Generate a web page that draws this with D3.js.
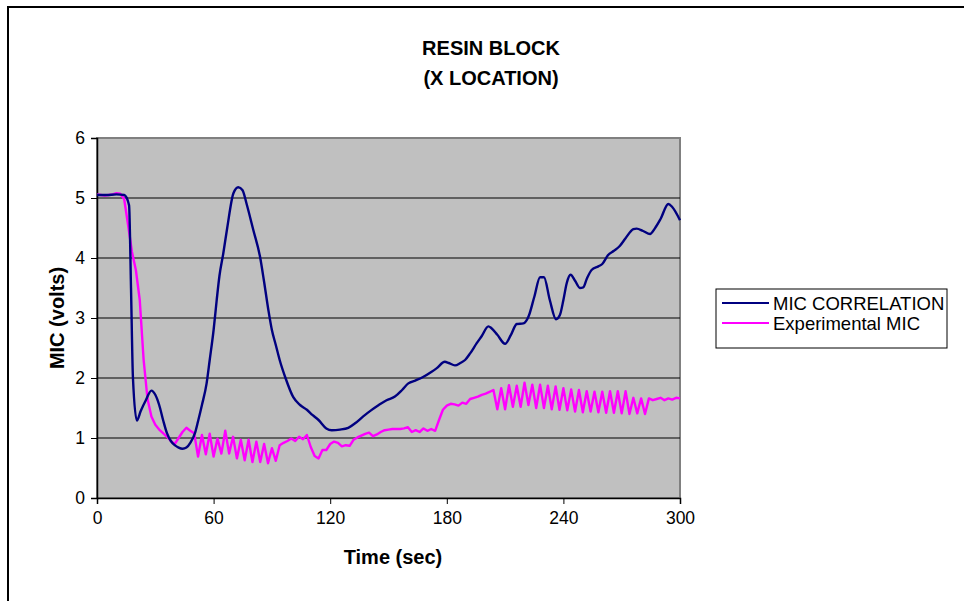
<!DOCTYPE html>
<head>
<meta charset="utf-8">
<style>
body { margin: 0; background: #fff; }
text { font-family: Arial, "Liberation Sans", sans-serif; }
</style>
</head>
<body>
<script src="https://d3js.org/d3.v7.min.js"></script>
<script>
// MIC CORRELATION (time in sec, volts)
var corrTime = [0,5,10,14,16.5,17.5,18.5,20.5,22.5,25,28,30,32,34,36,38,40,42,44,46,48,50.4,52,54,56.4,58,60,61.6,63,65,67,70.2,72.7,74.9,77,80.4,83.9,86,88.2,90,92,94,97,101,104.5,108,111,114,118,120.8,125,129.3,133,137,141,145,149,153.3,157,160.2,164,168,172,174.7,179,181,184.2,187,189.4,192,195.4,198,201.4,203,206,210,213,216,219.4,222,225,228,230,233,236.2,238.2,240,241.7,243.7,246,248.5,250.2,252,254.5,258,260,263,266,269,272,276,277.7,281,284.6,287,290,294,296,300];
var corrVolts = [5.05,5.05,5.06,5.05,4.88,3.5,2.0,1.29,1.45,1.62,1.79,1.72,1.55,1.3,1.08,0.95,0.88,0.84,0.82,0.84,0.92,1.08,1.28,1.55,1.91,2.3,2.8,3.3,3.7,4.08,4.5,5.08,5.18,5.13,4.9,4.47,4.02,3.6,3.13,2.8,2.55,2.3,2.0,1.68,1.55,1.47,1.38,1.3,1.16,1.13,1.14,1.17,1.25,1.36,1.46,1.55,1.63,1.69,1.8,1.91,1.96,2.02,2.1,2.16,2.27,2.25,2.21,2.25,2.3,2.41,2.58,2.7,2.86,2.83,2.72,2.57,2.72,2.9,2.91,3.02,3.35,3.68,3.68,3.3,2.98,3.05,3.3,3.58,3.72,3.62,3.5,3.51,3.65,3.8,3.86,3.9,4.05,4.12,4.2,4.33,4.48,4.49,4.45,4.4,4.49,4.65,4.9,4.85,4.63];

// Experimental MIC, sampled every 2 sec
var expTime = [0,2,4,6,8,10,12,14,16,18,20,22,24,26,28,30,32,34,36,38,40,42,44,46,48,50,52,54,56,58,60,62,64,66,68,70,72,74,76,78,80,82,84,86,88,90,92,94,96,98,100,102,104,106,108,110,112,114,116,118,120,122,124,126,128,130,132,134,136,138,140,142,144,146,148,150,152,154,156,158,160,162,164,166,168,170,172,174,176,178,180,182,184,186,188,190,192,194,196,198,200,202,204,206,208,210,212,214,216,218,220,222,224,226,228,230,232,234,236,238,240,242,244,246,248,250,252,254,256,258,260,262,264,266,268,270,272,274,276,278,280,282,284,286,288,290,292,294,296,298,300];
var expVolts = [5.06,5.05,5.04,5.05,5.06,5.08,5.07,4.98,4.55,4.1,3.8,3.3,2.3,1.65,1.36,1.22,1.14,1.08,1.02,0.95,0.9,1.0,1.1,1.17,1.12,1.08,0.69,1.05,0.73,1.07,0.69,0.99,0.74,1.12,0.74,1.02,0.66,0.97,0.63,0.97,0.6,0.94,0.6,0.9,0.58,0.83,0.62,0.88,0.92,0.95,0.99,0.95,1.02,0.98,1.05,0.85,0.7,0.66,0.8,0.8,0.9,0.94,0.92,0.86,0.88,0.87,0.97,1.01,1.04,1.07,1.09,1.03,1.06,1.1,1.13,1.14,1.15,1.15,1.15,1.16,1.18,1.1,1.13,1.1,1.16,1.12,1.15,1.12,1.3,1.47,1.54,1.57,1.56,1.54,1.59,1.57,1.65,1.67,1.69,1.72,1.74,1.77,1.8,1.48,1.83,1.48,1.88,1.52,1.87,1.52,1.92,1.55,1.89,1.5,1.89,1.5,1.87,1.48,1.86,1.47,1.83,1.46,1.81,1.44,1.8,1.43,1.78,1.44,1.77,1.43,1.77,1.42,1.78,1.42,1.78,1.41,1.78,1.4,1.67,1.41,1.66,1.4,1.66,1.63,1.65,1.67,1.63,1.66,1.64,1.67,1.66];

var xTicks = [0, 60, 120, 180, 240, 300];
var yTicks = [0, 1, 2, 3, 4, 5, 6];
var seriesNames = ["MIC CORRELATION", "Experimental MIC"];
var seriesColors = ["#000080", "#FF00FF"];

var width = 964, height = 601;
var plot = { left: 97, top: 138, right: 680, bottom: 498 };

var svg = d3.select("body").append("svg")
    .attr("width", width)
    .attr("height", height);

// outer chart frame
svg.append("rect")
    .attr("x", 8).attr("y", 7)
    .attr("width", 980).attr("height", 620)
    .attr("fill", "#fff").attr("stroke", "#000").attr("stroke-width", 2);

var x = d3.scaleLinear().domain([0, 300]).range([plot.left, plot.right]);
var y = d3.scaleLinear().domain([0, 6]).range([plot.bottom, plot.top]);

// plot background
svg.append("rect")
    .attr("x", plot.left).attr("y", plot.top)
    .attr("width", plot.right - plot.left).attr("height", plot.bottom - plot.top)
    .attr("fill", "#C0C0C0")
    .attr("stroke", "#808080").attr("stroke-width", 2);

// gridlines
svg.append("g").selectAll("line")
    .data(yTicks.filter(d => d > 0 && d < 6))
    .enter().append("line")
    .attr("x1", plot.left).attr("x2", plot.right)
    .attr("y1", d => y(d)).attr("y2", d => y(d))
    .attr("stroke", "#000").attr("stroke-width", 1);

// axes
var xAxis = svg.append("g")
    .attr("transform", "translate(0," + plot.bottom + ")")
    .call(d3.axisBottom(x).tickValues(xTicks).tickSize(6).tickPadding(8).tickFormat(d3.format("d")));
var yAxis = svg.append("g")
    .attr("transform", "translate(" + plot.left + ",0)")
    .call(d3.axisLeft(y).tickValues(yTicks).tickSize(6).tickPadding(6).tickFormat(d3.format("d")));

[xAxis, yAxis].forEach(function(a) {
    a.select(".domain").attr("stroke", "#000").attr("stroke-width", 1.5);
    a.selectAll(".tick line").attr("stroke", "#000");
    a.selectAll(".tick text")
        .attr("fill", "#000")
        .style("font-size", "17.5px")
        .style("font-family", "Arial, 'Liberation Sans', sans-serif");
});

// series
var line = d3.line()
    .x(d => x(d[0]))
    .y(d => y(d[1]));

var corrData = corrTime.map((t, i) => [t, corrVolts[i]]);
var expData = expTime.map((t, i) => [t, expVolts[i]]);

svg.append("path")
    .datum(expData)
    .attr("d", line)
    .attr("fill", "none")
    .attr("stroke", seriesColors[1])
    .attr("stroke-width", 2.4)
    .attr("stroke-linejoin", "round");

svg.append("path")
    .datum(corrData)
    .attr("d", line.curve(d3.curveMonotoneX))
    .attr("fill", "none")
    .attr("stroke", seriesColors[0])
    .attr("stroke-width", 2.4)
    .attr("stroke-linejoin", "round");

// titles
svg.append("text")
    .attr("x", 491).attr("y", 55)
    .attr("text-anchor", "middle")
    .style("font-size", "20px").style("font-weight", "bold")
    .text("RESIN BLOCK");
svg.append("text")
    .attr("x", 491).attr("y", 85)
    .attr("text-anchor", "middle")
    .style("font-size", "20px").style("font-weight", "bold")
    .text("(X LOCATION)");

svg.append("text")
    .attr("x", 393).attr("y", 564)
    .attr("text-anchor", "middle")
    .style("font-size", "20px").style("font-weight", "bold")
    .text("Time (sec)");

svg.append("text")
    .attr("transform", "translate(64," + ((plot.top + plot.bottom) / 2) + ") rotate(-90)")
    .attr("text-anchor", "middle")
    .style("font-size", "20px").style("font-weight", "bold")
    .text("MIC (volts)");

// legend
var legend = svg.append("g");
legend.append("rect")
    .attr("x", 716).attr("y", 289)
    .attr("width", 231).attr("height", 59)
    .attr("fill", "#fff").attr("stroke", "#000").attr("stroke-width", 1);

var items = legend.selectAll("g.item")
    .data(seriesNames)
    .enter().append("g")
    .attr("class", "item")
    .attr("transform", (d, i) => "translate(0," + (303 + i * 20) + ")");
items.append("line")
    .attr("x1", 722).attr("x2", 769)
    .attr("stroke", (d, i) => seriesColors[i])
    .attr("stroke-width", 2);
items.append("text")
    .attr("x", 773).attr("y", 6.5)
    .style("font-size", "18.5px")
    .text(d => d);
</script>
</body>
</html>
